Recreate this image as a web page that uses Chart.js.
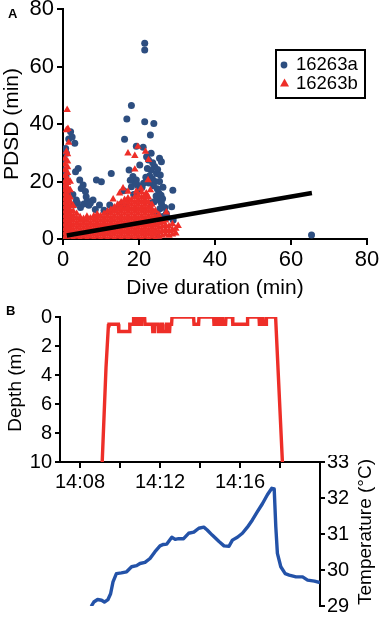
<!DOCTYPE html>
<html>
<head>
<meta charset="utf-8">
<script src="https://cdn.jsdelivr.net/npm/chart.js@4/dist/chart.umd.min.js"></script>
<style>
  html,body{margin:0;padding:0;background:#fff;}
  #wrap{position:relative;width:380px;height:620px;overflow:hidden;font-family:'Liberation Sans',Arial,sans-serif;}
  canvas{position:absolute;left:0;}
  .tag{position:absolute;font-weight:bold;font-size:13px;color:#000;}
</style>
</head>
<body>
<div id="wrap">
  <canvas id="cA" width="380" height="300" style="top:0"></canvas>
  <canvas id="cDepth" width="380" height="195" style="top:300px"></canvas>
  <canvas id="cTemp" width="380" height="165" style="top:455px"></canvas>
  <div class="tag" style="left:8px;top:6px">A</div>
  <div class="tag" style="left:6px;top:303px">B</div>
</div>
<script>
/* panel A: post-dive surface duration vs dive duration, two tags */
const seriesNames = ['16263a', '16263b'];

// 16263a (blue) - only the points that show outside the red cloud matter
const tag16263a = [
  [21.5,68.1],[21.5,65.7],[18.0,46.4],[16.8,41.7],[21.5,40.8],[23.9,40.2],[23.0,36.2],[16.2,34.7],
  [19.3,32.3],[21.1,31.9],[23.2,29.8],[22.0,28.6],[22.5,27.5],[25.4,28.1],[25.9,26.9],[24.1,25.2],
  [20.2,25.7],[17.4,24.0],[23.2,24.0],[24.6,22.8],[18.4,21.7],[19.3,20.5],[25.4,20.0],[18.0,18.2],
  [26.3,18.0],[28.9,17.0],[12.7,22.8],[8.8,20.5],[10.1,19.9],[3.3,23.4],[4.4,20.5],[5.3,18.8],
  [4.8,17.6],[3.1,33.3],[2.0,37.3],[0.7,31.5],[0.9,29.8],[0.4,27.5],[1.3,13.6],[3.5,13.6],
  [6.1,14.7],[7.9,13.6],[9.6,11.8],[12.3,11.8],[14.0,10.7],[25.4,13.6],[25.9,12.4],[28.6,11.2],
  [27.2,8.9],[29.0,6.6],[25.0,0.6],[65.4,1.4],
  [22.8,22.0],[23.5,21.0],[24.2,20.0],[23.8,18.5],[24.8,17.5],[25.2,16.0],[24.5,15.0],[25.8,15.2],
  [26.2,14.0],[24.0,13.0],[23.2,12.5],[26.8,11.0],[25.5,10.5],[24.8,9.0],[27.5,7.5],[26.3,7.8],
  [22.6,19.5],[21.8,21.5],[22.2,24.5],[23.6,26.5],[24.9,24.2],[25.6,22.3],[20.8,18.0],[19.6,18.8],
  [18.9,19.6],[17.7,20.4],[16.4,11.5],[16.0,16.8],[18.6,15.5],[20.0,17.2],[21.2,19.4],
  [0.5,24.0],[0.8,22.0],[1.0,20.0],[0.6,18.0],[1.8,16.0],[2.6,15.5],[3.8,12.5],[4.6,11.0],
  [2.8,11.8],[5.5,12.2],[6.8,11.7],[8.5,10.3],[10.8,10.0],[11.5,9.5],[13.0,10.2],[15.2,12.0],
  [1.5,34.8],[2.4,35.5],[4.0,24.5],[5.9,16.5],[6.4,13.2],[7.2,12.5]
];

// 16263b (red) outliers above the dense cloud
const tag16263bOut = [
  [1.1,44.9],[0.9,37.9],[1.5,33.5],[0.9,30.4],[1.3,38.3],[17.1,29.8],[18.9,28.9],[19.7,32.1],
  [21.7,30.4],[22.5,27.5],[22.4,20.5],[18.9,24.2],[15.8,17.6],[14.9,15.9],[17.1,16.5],[13.2,13.8],
  [19.3,16.5],[21.9,15.9],[27.2,9.3],[30.3,4.6],[20.5,17.5],[23.0,17.0]
];
// 16263b dense cloud, read column by column: [dive duration, [PDSD values]]
const tag16263bCols = [
  [0.5,[0.5,2,3.5,5,6.5,8,9.5,11,12.5,14,15.5,17,18.5,20,22,24,26,28]],
  [1.2,[0,1.5,3,4.5,6,7.5,9,10.5,12,13.5,15,16.5,18,19.5,21,23,25,27,29.5]],
  [1.9,[0.8,2.5,4,5.5,7,8.5,10,11.5,13,14.5,17,20]],
  [2.7,[0,1.6,3.2,4.8,6.4,8,9.6,11.5]],
  [3.6,[0.8,2.4,4,5.6,7.2,8.8]],
  [4.5,[0,1.6,3.2,4.8,6.4,7.6]],
  [5.4,[0.8,2.4,4,5.6,7.0]],
  [6.3,[0,1.6,3.2,4.8,6.4,7.8]],
  [7.2,[0.8,2.4,4,5.6,7.2]],
  [8.1,[0,1.6,3.2,4.8,6.4,8.0]],
  [9.0,[0.8,2.4,4,5.6,7.2,8.6]],
  [9.9,[0,1.6,3.2,4.8,6.4,8.0]],
  [10.8,[0.8,2.4,4,5.6,7.2,8.8]],
  [11.7,[0,1.6,3.2,4.8,6.4,8.0,9.6]],
  [12.6,[0.8,2.4,4,5.6,7.2,8.8,10.2]],
  [13.5,[0,1.6,3.2,4.8,6.4,8.0,9.6,11]],
  [14.4,[0.8,2.4,4,5.6,7.2,8.8,10.4,12]],
  [15.3,[0,1.6,3.2,4.8,6.4,8.0,9.6,11.2,12.8]],
  [16.2,[0.8,2.4,4,5.6,7.2,8.8,10.4,12,13.6]],
  [17.1,[0,1.6,3.2,4.8,6.4,8.0,9.6,11.2,12.8,14.2]],
  [18.0,[0.8,2.4,4,5.6,7.2,8.8,10.4,12,13.6]],
  [18.9,[0,1.6,3.2,4.8,6.4,8.0,9.6,11.2,12.8,14.6]],
  [19.8,[0.8,2.4,4,5.6,7.2,8.8,10.4,12,13.6,15.2]],
  [20.7,[0,1.6,3.2,4.8,6.4,8.0,9.6,11.2,12.8,14.4,16.2]],
  [21.6,[0.8,2.4,4,5.6,7.2,8.8,10.4,12,13.6,15.2]],
  [22.5,[0,1.6,3.2,4.8,6.4,8.0,9.6,11.2,12.8,14.5]],
  [23.4,[0.8,2.4,4,5.6,7.2,8.8,10.4,12]],
  [24.3,[0,1.6,3.2,4.8,6.4,8.0,9.8]],
  [25.2,[0.8,2.4,4,5.6,7.2,8.4]],
  [26.1,[1.2,2.8,4.4,6.0]],
  [27.0,[1.6,3.2,4.8,6.5]],
  [27.9,[1.2,2.8,4.4]],
  [28.8,[1.6,3.2,5.2]],
  [29.7,[2.0,3.6]]
];
// fitted regression line (end points)
const fitLine = [[1.0,1.2],[65.5,16.0]];
const axisATicks = [0, 20, 40, 60, 80];

/* panel B: depth and temperature trace, time = minutes after 14:00 */
const depthTrace = [
  [9.11,10],[9.30,3.5],[9.42,0.6],[9.45,0.5],[9.92,0.5],[9.94,1.0],[10.47,1.0],[10.49,0.5],
  [10.66,0.5],[10.68,0],[10.75,0],[10.77,0.5],[10.88,0.5],[10.90,0],[10.96,0],[10.98,0.5],
  [11.05,0.5],[11.07,0],[11.23,0],[11.25,0.5],[11.62,0.5],[11.64,1.0],[11.70,1.0],[11.72,0.5],
  [11.90,0.5],[11.92,1.0],[12.05,1.0],[12.07,0.5],[12.12,0.5],[12.14,1.0],[12.30,1.0],[12.32,0.5],
  [12.38,0.5],[12.40,1.0],[12.48,1.0],[12.50,0.5],[12.58,0.5],[12.60,0],[13.68,0],[13.70,0.5],
  [13.93,0.5],[13.95,0],[14.68,0],[14.70,0.5],[14.84,0.5],[14.86,0],[14.94,0],[14.96,0.5],
  [15.02,0.5],[15.04,0],[15.10,0],[15.12,0.5],[15.28,0.5],[15.30,0],[15.62,0],[15.64,0.5],
  [16.36,0.5],[16.38,0],[16.95,0],[16.97,0.5],[17.05,0.5],[17.07,0],[17.14,0],[17.16,0.5],
  [17.30,0.5],[17.32,0],[17.78,0],[18.12,10]
];
const tempTrace = [
  [8.56,28.99],[8.69,29.11],[8.88,29.18],[9.08,29.16],[9.22,29.11],[9.40,29.18],[9.53,29.34],
  [9.65,29.67],[9.82,29.90],[10.07,29.92],[10.33,29.95],[10.58,30.09],[10.83,30.12],[11.00,30.18],
  [11.25,30.21],[11.50,30.32],[11.75,30.51],[12.00,30.67],[12.17,30.71],[12.34,30.72],[12.59,30.91],
  [12.76,30.85],[12.93,30.87],[13.18,30.87],[13.43,31.02],[13.69,31.05],[13.94,31.16],[14.19,31.19],
  [14.36,31.11],[14.61,30.97],[14.95,30.79],[15.20,30.67],[15.45,30.66],[15.62,30.83],[15.87,30.91],
  [16.12,31.02],[16.37,31.19],[16.62,31.39],[16.87,31.62],[17.12,31.84],[17.37,32.09],[17.59,32.27],
  [17.71,32.25],[17.79,31.20],[17.87,30.46],[18.04,30.09],[18.26,29.90],[18.46,29.86],[18.80,29.81],
  [19.13,29.81],[19.38,29.72],[19.72,29.69],[20.00,29.65]
];
const timeTickVals = [8, 10, 12, 14, 16, 18];
const timeTickText = ['14:08', '', '14:12', '', '14:16', ''];
const depthTicks = [0, 2, 4, 6, 8, 10];
const tempTicks = [29, 30, 31, 32, 33];

const BLUE = '#2d4e80', RED = '#ee2e28', LINEBLUE = '#2352a8', INK = '#000';
const FONT = "'Liberation Sans', Arial, Helvetica, sans-serif";
Chart.defaults.font.family = FONT;
Chart.defaults.color = INK;

const xy = a => a.map(p => ({x: p[0], y: p[1]}));
const redPts = xy(tag16263bOut).concat(...tag16263bCols.map(c => c[1].map(v => ({x: c[0], y: v}))));

// fixed axis sizes so the three canvases line up
const fixW = w => s => { s.width = w; s.paddingTop = 0; s.paddingBottom = 0; };
const fixH = h => s => { s.height = h; s.paddingLeft = 0; s.paddingRight = 0; };
const setTicks = vals => s => { s.ticks = vals.map(v => ({value: v})); };
const edge = len => ({display: true, drawOnChartArea: false, drawTicks: true, tickLength: len, color: INK, lineWidth: 2});
const border = {display: true, color: INK, width: 2};

const boxLegend = {
  id: 'boxLegend',
  afterDraw(chart) {
    const ctx = chart.ctx;
    ctx.save();
    ctx.lineWidth = 2; ctx.strokeStyle = INK;
    ctx.strokeRect(276, 50, 89, 48);
    ctx.fillStyle = BLUE;
    ctx.beginPath(); ctx.arc(284, 65, 3.4, 0, Math.PI * 2); ctx.fill();
    ctx.fillStyle = RED;
    ctx.beginPath(); ctx.moveTo(284.5, 78.5); ctx.lineTo(289, 86.5); ctx.lineTo(280, 86.5); ctx.closePath(); ctx.fill();
    ctx.fillStyle = INK; ctx.font = '18.5px ' + FONT; ctx.textBaseline = 'middle'; ctx.textAlign = 'left';
    ctx.fillText(seriesNames[0], 296, 65);
    ctx.fillText(seriesNames[1], 296, 84);
    ctx.restore();
  }
};

new Chart(document.getElementById('cA'), {
  type: 'scatter',
  data: {datasets: [
    {label: seriesNames[0], data: xy(tag16263a), pointStyle: 'circle', pointRadius: 3.5, backgroundColor: BLUE, borderWidth: 0, order: 2},
    {label: seriesNames[1], data: redPts, pointStyle: 'triangle', pointRadius: 4.3, backgroundColor: RED, borderWidth: 0, order: 1},
    {type: 'line', label: 'fit', data: xy(fitLine), borderColor: INK, borderWidth: 4.5, pointRadius: 0, borderCapStyle: 'butt', order: 0}
  ]},
  options: {
    responsive: false, animation: false,
    layout: {padding: {left: 0, right: 13, top: 9, bottom: 0}},
    plugins: {legend: {display: false}, tooltip: {enabled: false}},
    scales: {
      x: {type: 'linear', min: 0, max: 80, afterBuildTicks: setTicks(axisATicks), afterFit: fixH(61),
        grid: edge(6), border,
        ticks: {font: {size: 22}, color: INK, padding: 2, maxRotation: 0},
        title: {display: true, text: 'Dive duration (min)', font: {size: 21}, color: INK, padding: {top: 0, bottom: -1}}},
      y: {min: 0, max: 80, afterBuildTicks: setTicks(axisATicks), afterFit: fixW(63),
        grid: edge(6), border,
        ticks: {font: {size: 22}, color: INK, padding: 3},
        title: {display: true, text: 'PDSD (min)', font: {size: 21}, color: INK, padding: {top: 0, bottom: 0}}}
    }
  },
  plugins: [boxLegend]
});

new Chart(document.getElementById('cDepth'), {
  type: 'line',
  data: {datasets: [
    {label: 'Depth', data: xy(depthTrace), borderColor: RED, borderWidth: 3.4, pointRadius: 0, tension: 0, borderJoinStyle: 'miter'}
  ]},
  options: {
    responsive: false, animation: false,
    layout: {padding: {left: 0, right: 60, top: 17, bottom: 0}},
    plugins: {legend: {display: false}, tooltip: {enabled: false}},
    scales: {
      x: {type: 'linear', min: 7, max: 20, afterBuildTicks: setTicks(timeTickVals), afterFit: fixH(33),
        grid: edge(6), border,
        ticks: {font: {size: 20}, color: INK, padding: 2, maxRotation: 0, autoSkip: false,
          callback: (v, i) => timeTickText[i]}},
      y: {reverse: true, min: 0, max: 10, afterBuildTicks: setTicks(depthTicks), afterFit: fixW(60),
        grid: edge(5), border,
        ticks: {font: {size: 20}, color: INK, padding: 3},
        title: {display: true, text: 'Depth (m)', font: {size: 19}, color: INK, padding: {top: 4, bottom: 0}}}
    }
  }
});

const sideTitle = {
  id: 'sideTitle',
  afterDraw(chart) {
    const ctx = chart.ctx;
    ctx.save();
    ctx.translate(366, 77); ctx.rotate(-Math.PI / 2);
    ctx.fillStyle = INK; ctx.font = '19px ' + FONT; ctx.textAlign = 'center'; ctx.textBaseline = 'middle';
    ctx.fillText('Temperature (\u00B0C)', 0, 0);
    ctx.restore();
  }
};

new Chart(document.getElementById('cTemp'), {
  type: 'line',
  data: {datasets: [
    {label: 'Temperature', data: xy(tempTrace), borderColor: LINEBLUE, borderWidth: 3.4, pointRadius: 0, tension: 0, borderJoinStyle: 'round'}
  ]},
  options: {
    responsive: false, animation: false,
    layout: {padding: {left: 60, right: 0, top: 7, bottom: 14}},
    plugins: {legend: {display: false}, tooltip: {enabled: false}},
    scales: {
      x: {type: 'linear', min: 7, max: 20, display: false},
      y: {position: 'right', min: 29, max: 33, afterBuildTicks: setTicks(tempTicks), afterFit: fixW(60),
        grid: edge(5), border,
        ticks: {font: {size: 20}, color: INK, padding: 2}}
    }
  },
  plugins: [sideTitle]
});
</script>
</body>
</html>
